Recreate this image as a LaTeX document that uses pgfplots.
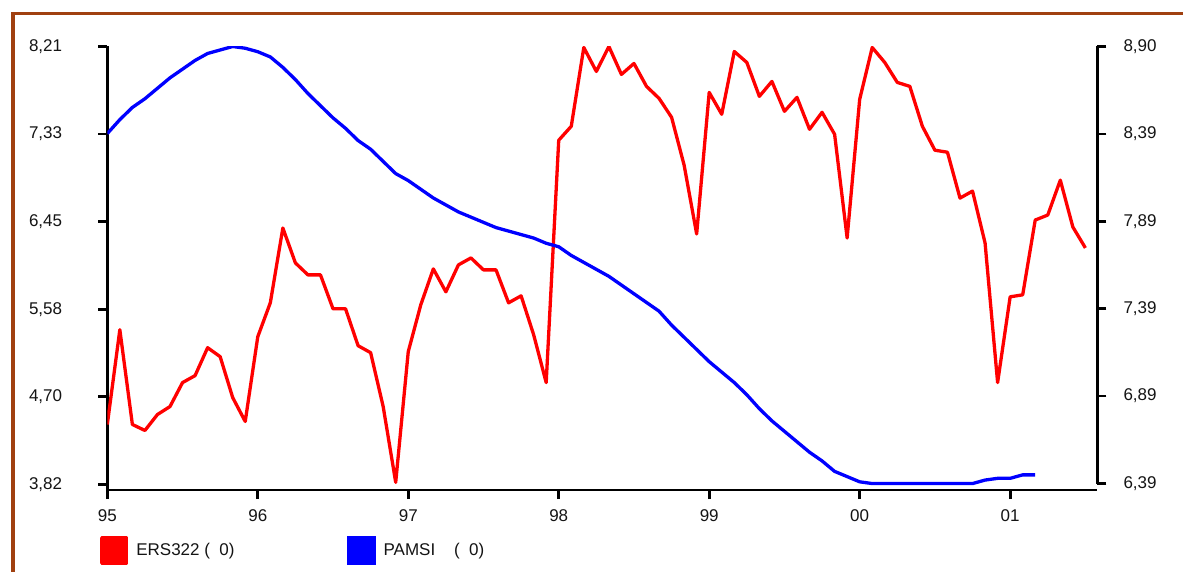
\documentclass[border=0pt]{standalone}
\usepackage{fontspec}
\setmainfont{Liberation Sans}
\usepackage{pgfplots}
\pgfplotsset{compat=1.18}
\usepackage{pgfplotstable}

\definecolor{framebrown}{RGB}{160,64,16}
\definecolor{ersred}{RGB}{255,0,0}
\definecolor{pamblue}{RGB}{0,0,255}

% month index (0 = Jan 95), value (left scale)
\pgfplotstableread{
m v
0 4.42
1 5.37
2 4.42
3 4.36
4 4.52
5 4.60
6 4.84
7 4.91
8 5.19
9 5.10
10 4.69
11 4.45
12 5.30
13 5.64
14 6.39
15 6.04
16 5.92
17 5.92
18 5.58
19 5.58
20 5.21
21 5.14
22 4.60
23 3.84
24 5.15
25 5.62
26 5.98
27 5.75
28 6.02
29 6.09
30 5.97
31 5.97
32 5.64
33 5.71
34 5.32
35 4.84
36 7.27
37 7.41
38 8.20
39 7.96
40 8.21
41 7.93
42 8.04
43 7.81
44 7.69
45 7.50
46 7.02
47 6.33
48 7.75
49 7.53
50 8.16
51 8.05
52 7.71
53 7.86
54 7.56
55 7.70
56 7.38
57 7.55
58 7.33
59 6.29
60 7.68
61 8.20
62 8.05
63 7.85
64 7.81
65 7.41
66 7.17
67 7.15
68 6.69
69 6.76
70 6.24
71 4.84
72 5.70
73 5.72
74 6.47
75 6.52
76 6.87
77 6.40
78 6.19
}\ersdata

% month index, value (right scale)
\pgfplotstableread{
m v
0 8.40
1 8.48
2 8.55
3 8.60
4 8.66
5 8.72
6 8.77
7 8.82
8 8.86
9 8.88
10 8.90
11 8.89
12 8.87
13 8.84
14 8.78
15 8.71
16 8.63
17 8.56
18 8.49
19 8.43
20 8.36
21 8.31
22 8.24
23 8.17
24 8.13
25 8.08
26 8.03
27 7.99
28 7.95
29 7.92
30 7.89
31 7.86
32 7.84
33 7.82
34 7.80
35 7.77
36 7.75
37 7.70
38 7.66
39 7.62
40 7.58
41 7.53
42 7.48
43 7.43
44 7.38
45 7.30
46 7.23
47 7.16
48 7.09
49 7.03
50 6.97
51 6.90
52 6.82
53 6.75
54 6.69
55 6.63
56 6.57
57 6.52
58 6.46
59 6.43
60 6.40
61 6.39
62 6.39
63 6.39
64 6.39
65 6.39
66 6.39
67 6.39
68 6.39
69 6.39
70 6.41
71 6.42
72 6.42
73 6.44
74 6.44
}\pamdata

\pgfplotsset{
  common/.style={
    scale only axis, width=990pt, height=443.5pt,
    at={(107.3pt,81pt)}, anchor=south west,
    xmin=0, xmax=78.95,
    tick align=outside, major tick length=9pt,
    tick style={black, line width=2.7pt},
    axis line style={black, line width=2.7pt, -},
    ticklabel style={font=\fontsize{17}{20}\selectfont, text={rgb,255:red,20;green,20;blue,20}},
    /pgf/number format/assume math mode=true,
  }
}

\begin{document}
\begin{tikzpicture}
\useasboundingbox (0pt,0pt) rectangle (1183pt,571pt);
\fill[white] (0pt,0pt) rectangle (1183pt,571pt);
\draw[framebrown, line width=3.3pt] (13pt,-5pt) -- (13pt,557.7pt) -- (1190pt,557.7pt);

\begin{axis}[common,
  axis x line*=bottom, axis y line*=left,
  xtick pos=bottom, ytick pos=left,
  ymin=3.763, ymax=8.21,
  xtick={0,12,24,36,48,60,72},
  xticklabels={95,96,97,98,99,00,01},
  ytick={3.82,4.698,5.576,6.454,7.332,8.21},
  yticklabels={{3,82},{4,70},{5,58},{6,45},{7,33},{8,21}},
  yticklabel style={anchor=east, inner sep=0pt, xshift=-36pt},
  xticklabel style={anchor=north, inner sep=0pt, yshift=-10pt},
  legend image code/.code={\fill[#1] (0pt,-12.5pt) rectangle (25pt,12.5pt);},
  legend style={at={(-0.00737,-0.1364)}, anchor=west, draw=none, fill=none,
    inner sep=0pt, outer sep=0pt, legend columns=2,
    font=\fontsize{17}{20}\selectfont, text={rgb,255:red,20;green,20;blue,20},
    nodes={inner sep=0pt, anchor=west},
    /tikz/every odd column/.append style={column sep=8pt},
    /tikz/every even column/.append style={column sep=0pt}},
]
\addplot[color=ersred, line width=3.3pt, line join=round] table[x=m, y=v] {\ersdata};
\addlegendentry{\makebox[211pt][l]{ERS322 (\ \ 0)}}
\addlegendimage{color=pamblue, line width=3.3pt}
\addlegendentry{PAMSI\ \ \ \ (\ \ 0)}
\end{axis}

\begin{axis}[common,
  hide x axis, axis y line*=right, ytick pos=right,
  ymin=6.353, ymax=8.90,
  ytick={6.39,6.892,7.394,7.896,8.398,8.90},
  yticklabels={{6,39},{6,89},{7,39},{7,89},{8,39},{8,90}},
  yticklabel style={anchor=west, inner sep=0pt, xshift=17pt},
  y axis line style={shorten <=6.5pt},
]
\addplot[color=pamblue, line width=3.3pt, line join=round] table[x=m, y=v] {\pamdata};
\end{axis}
\end{tikzpicture}
\end{document}
